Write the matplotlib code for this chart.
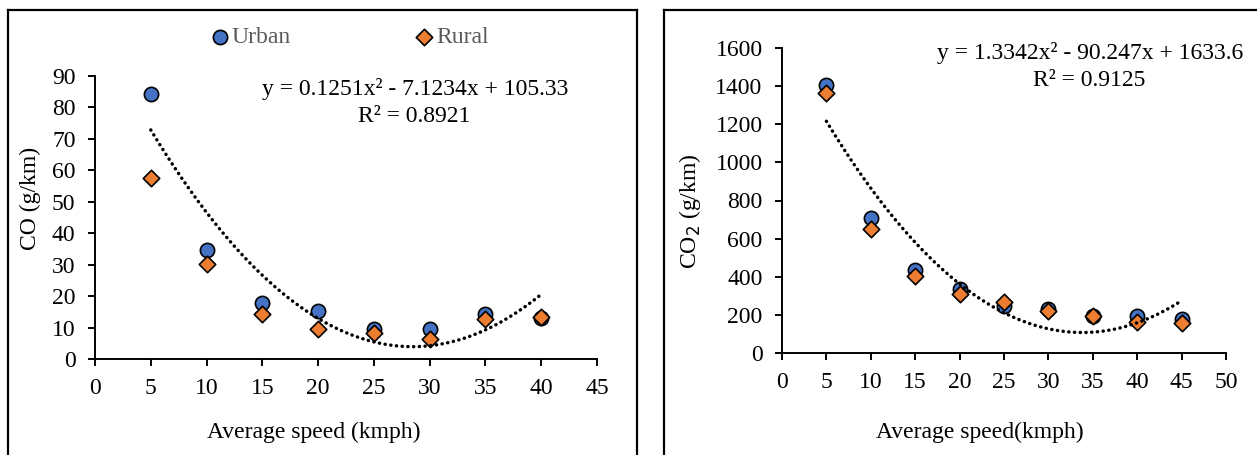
import numpy as np
import matplotlib
matplotlib.use("Agg")
import matplotlib.pyplot as plt
from matplotlib.lines import Line2D

plt.rcParams['font.family'] = ['Liberation Serif', 'DejaVu Serif']

# ---------------- data ----------------
speed_co = [5, 10, 15, 20, 25, 30, 35, 40]
co_urban = [84.4, 34.6, 17.7, 15.4, 9.4, 9.6, 14.3, 13.0]
co_rural = [57.7, 30.2, 14.3, 9.6, 8.4, 6.5, 12.8, 13.5]
co_fit_coef = [0.1251, -7.1234, 105.33]   # displayed trendline coefficients
co_eq = "y = 0.1251x\u00b2 - 7.1234x + 105.33"
co_r2 = "R\u00b2 = 0.8921"

speed_co2 = [5, 10, 15, 20, 25, 30, 35, 40, 45]
co2_urban = [1405, 708, 437, 336, 248, 231, 196, 192, 178]
co2_rural = [1364, 650, 405, 307, 265, 220, 192, 164, 157]
co2_fit_coef = [1.3342, -90.247, 1633.6]
co2_eq = "y = 1.3342x\u00b2 - 90.247x + 1633.6"
co2_r2 = "R\u00b2 = 0.9125"

series_names = ["Urban", "Rural"]
blue = "#4472C4"
orange = "#ED7D31"

W, H = 1257, 455
fig = plt.figure(figsize=(W / 100, H / 100), dpi=100)

def fx(px):
    return px / W

def fy(py):
    return 1 - py / H

tick_fs = 17
label_fs = 17
eq_fs = 17


def style_axis(ax):
    for s in ["top", "right"]:
        ax.spines[s].set_visible(False)
    for s in ["left", "bottom"]:
        ax.spines[s].set_linewidth(1.4)
        ax.spines[s].set_color("black")
    ax.tick_params(axis="both", direction="out", length=5, width=1.4,
                   labelsize=tick_fs, colors="black")
    ax.tick_params(axis="y", pad=9)
    ax.tick_params(axis="x", pad=9)


def draw_panel(ax, xs, urban, rural, coef, xlim, xticks, ylim, yticks):
    ax.scatter(xs, urban, s=105, marker="o", facecolor=blue, edgecolor="black",
               linewidth=1.2, zorder=3, label=series_names[0])
    ax.scatter(xs, rural, s=70, marker="D", facecolor=orange, edgecolor="black",
               linewidth=1.2, zorder=4, label=series_names[1])
    xf = np.linspace(min(xs), max(xs), 200)
    yf = np.polyval(coef, xf)
    ax.plot(xf, yf, color="black", linewidth=2.5, linestyle=(0, (0.05, 1.6)),
            dash_capstyle="round", zorder=5)
    ax.set_xlim(*xlim)
    ax.set_ylim(*ylim)
    ax.set_xticks(xticks)
    ax.set_yticks(yticks)
    style_axis(ax)


# ---------------- left panel (CO) ----------------
ax1 = fig.add_axes([fx(95), fy(359), fx(597) - fx(95), fy(76) - fy(359)])
draw_panel(ax1, speed_co, co_urban, co_rural, co_fit_coef,
           (0, 45), range(0, 46, 5), (0, 90), range(0, 91, 10))
fig.text(fx(30), fy(198), "CO (g/km)", rotation=90, ha="center", va="center",
         fontsize=label_fs)
fig.text(fx(314), fy(432), "Average speed (kmph)", ha="center", va="center",
         fontsize=label_fs)
fig.text(fx(415), fy(89), co_eq, ha="center", va="center", fontsize=eq_fs)
fig.text(fx(414), fy(116), co_r2, ha="center", va="center", fontsize=eq_fs)

leg = ax1.legend(loc="center", bbox_to_anchor=(fx(349), fy(37)),
                 bbox_transform=fig.transFigure, ncol=2, frameon=False,
                 fontsize=17, handletextpad=0.05, columnspacing=5.2,
                 handlelength=0.9, borderpad=0)
for t in leg.get_texts():
    t.set_color("#595959")

# ---------------- right panel (CO2) ----------------
ax2 = fig.add_axes([fx(782), fy(353), fx(1226) - fx(782), fy(48) - fy(353)])
draw_panel(ax2, speed_co2, co2_urban, co2_rural, co2_fit_coef,
           (0, 50), range(0, 51, 5), (0, 1600), range(0, 1601, 200))
fig.text(fx(690), fy(211), "CO$_2$ (g/km)", rotation=90, ha="center",
         va="center", fontsize=label_fs)
fig.text(fx(980), fy(432), "Average speed(kmph)", ha="center", va="center",
         fontsize=label_fs)
fig.text(fx(1090), fy(53), co2_eq, ha="center", va="center", fontsize=eq_fs)
fig.text(fx(1089), fy(80), co2_r2, ha="center", va="center", fontsize=eq_fs)

# ---------------- panel borders ----------------
def border(x0, x1, top, right=True):
    kw = dict(color="black", linewidth=1.6, transform=fig.transFigure)
    fig.add_artist(Line2D([fx(x0), fx(x0)], [fy(H + 5), fy(top)], **kw))
    fig.add_artist(Line2D([fx(x0), fx(x1)], [fy(top), fy(top)], **kw))
    if right:
        fig.add_artist(Line2D([fx(x1), fx(x1)], [fy(top), fy(H + 5)], **kw))

border(8, 637, 10)
border(664, W + 5, 10, right=False)

fig.savefig("out.png", dpi=100)
